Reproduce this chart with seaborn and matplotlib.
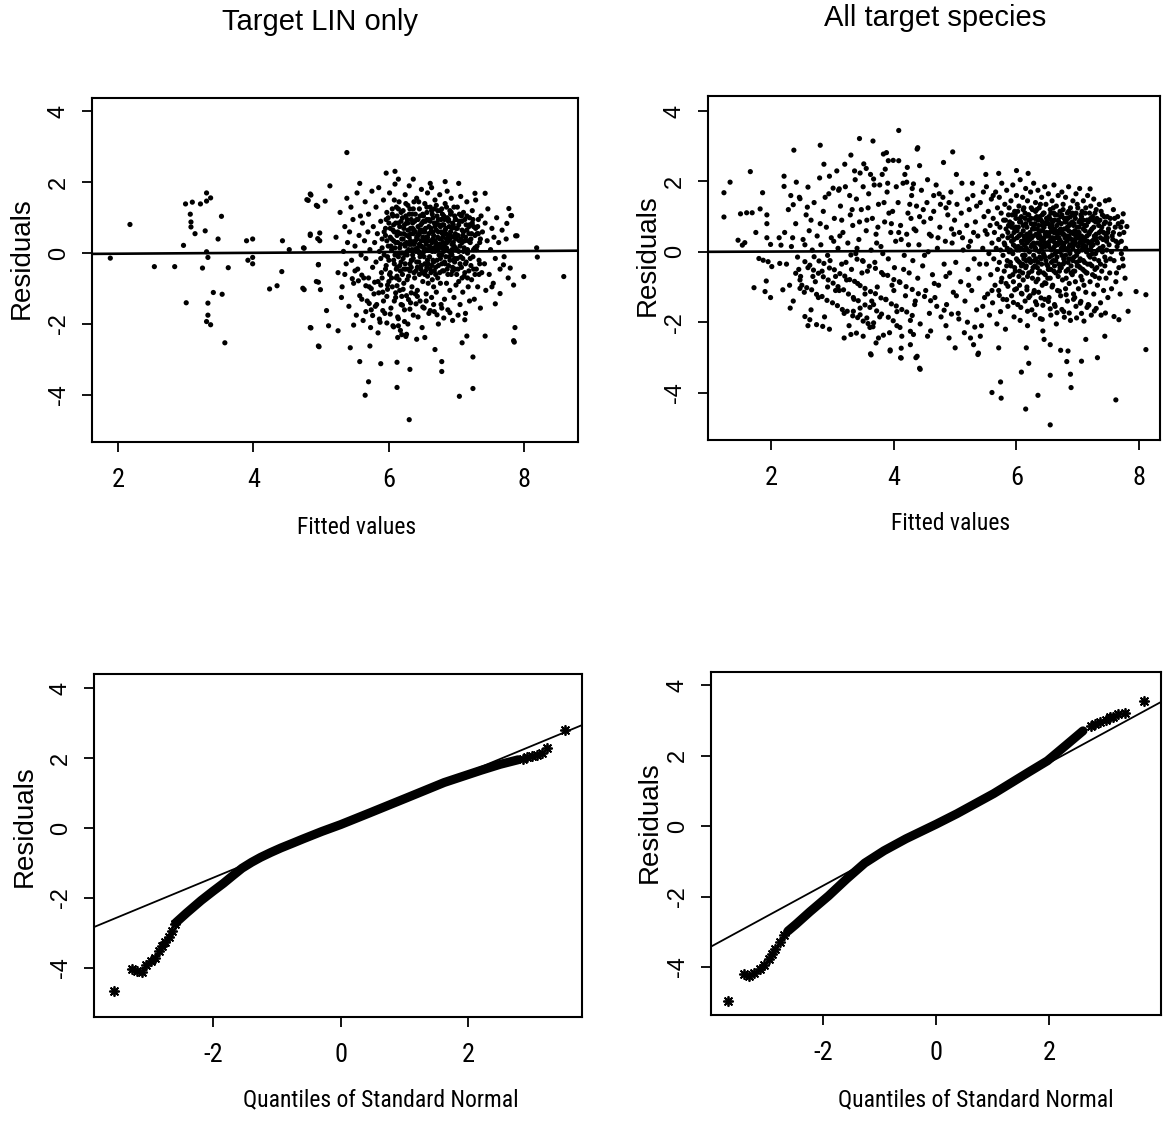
import matplotlib
matplotlib.use("Agg")
import matplotlib.pyplot as plt
from matplotlib import font_manager as fm
import seaborn as sns
import pandas as pd

# ---------------- data ----------------
lin_sparse = [(2.18,0.81),(1.89,-0.14),(2.54,-0.38),(2.84,-0.38),(2.97,0.22),(3.00,1.39),(3.10,1.44),(3.07,1.10),
(3.08,0.88),(3.08,0.74),(3.14,0.55),(3.22,1.39),(3.31,1.70),(3.31,1.47),(3.37,1.56),(3.29,0.63),(3.31,0.04),(3.33,-0.12),
(3.25,-0.42),(3.53,1.04),(3.48,0.40),(3.63,-0.41),(3.41,-1.11),(3.54,-1.16),(3.01,-1.40),(3.33,-1.41),(3.33,-1.75),
(3.31,-1.93),(3.37,-2.02),(3.58,-2.53),(3.90,0.35),(3.99,0.40),(3.92,-0.20),(3.99,-0.12),(3.99,-0.30),(4.24,-1.01),
(4.35,-0.92),(4.43,0.35),(4.42,-0.52),(4.53,0.10),(4.75,0.14),(4.75,-1.03),(4.81,1.49),(4.85,1.64),(4.95,1.32),
(4.84,0.50),(4.95,0.41),(4.98,0.57),(4.96,-0.32),(4.96,-0.82),(4.99,-1.03),(4.85,-2.11),(4.97,-2.64),
(5.38,2.84),(5.96,2.26),(6.09,2.31),(6.14,2.09),(6.36,2.09),(6.61,1.97),(6.83,2.02),(7.03,1.97),(7.42,1.69),(7.27,1.69),
(5.57,1.97),(5.13,1.90),(4.79,1.51),(4.84,1.67),(5.06,1.47),(4.93,1.35),(7.77,1.26),(7.81,1.06),(7.89,0.49),(7.74,0.84),
(8.18,0.15),(8.19,-0.11),(7.99,-0.66),(8.58,-0.66),(7.84,-0.90),(7.69,-0.33),(7.64,-1.14),(7.86,-2.10),(7.85,-2.51),
(7.42,-2.34),(7.24,-2.93),(7.24,-3.82),(7.04,-4.04),(6.78,-3.06),(6.78,-3.34),(6.68,-2.72),(6.53,-2.38),(6.31,-3.28),
(6.12,-3.08),(6.12,-3.79),(6.30,-4.70),(5.65,-4.01),(5.70,-3.63),(5.57,-3.06),(5.88,-3.12),(5.72,-2.62),(5.43,-2.67),
(4.96,-2.62),(4.84,-2.10),(5.11,-2.05),(5.25,-2.19),(5.48,-2.03),(4.73,-0.99),(4.93,-0.80),(5.08,-1.62),(4.74,0.15),
(4.96,-0.33),(4.84,0.54),(4.98,0.35),(6.14,-2.05),(6.13,-2.38),(6.26,-2.29),(6.41,-2.43),(7.15,-2.34),(7.08,-2.53),
(7.52,-0.95),(7.57,-1.43),(7.79,-0.42),(7.80,1.06),(7.87,0.49),(7.84,-2.47)]

lin_core = [(5.22,0.45),(5.25,-0.55),(5.28,1.15),(5.30,-1.25),(5.33,0.05),(5.35,0.75),(5.37,-0.30),(5.38,1.55),(5.31,-0.95),(5.39,0.30),
(5.41,-1.50),(5.42,0.60),(5.44,1.30),(5.45,-0.20),(5.47,0.95),(5.48,-0.85),(5.50,0.20),(5.52,-1.75),(5.53,1.70),(5.54,-0.45),(5.56,0.50),(5.57,-1.20),(5.58,1.05),(5.59,-0.05),
(5.61,0.85),(5.62,-1.90),(5.63,-0.70),(5.64,0.35),(5.65,1.45),(5.66,-0.15),(5.68,-1.35),(5.69,0.60),(5.70,1.10),(5.71,-0.95),(5.72,0.10),(5.74,-1.60),(5.75,1.75),(5.76,-0.40),(5.77,0.75),(5.78,-1.15),(5.79,0.30),(5.73,-2.10),
(5.81,1.30),(5.81,-0.25),(5.82,-1.45),(5.83,0.55),(5.84,-0.80),(5.85,1.85),(5.86,0.05),(5.87,-1.95),(5.88,0.90),(5.89,-0.55),(5.90,0.40),(5.91,-1.10),(5.92,1.50),(5.93,-0.05),(5.94,-1.70),(5.95,0.70),(5.96,-0.35),(5.97,1.15),(5.98,-0.90),(5.99,0.20),(5.84,-2.25),(5.92,-1.35),(5.96,0.95),(5.88,-0.15),
(6.01,1.70),(6.01,-0.60),(6.02,0.45),(6.03,-1.55),(6.04,0.10),(6.05,1.25),(6.05,-0.95),(6.06,-2.05),(6.07,0.80),(6.08,-0.30),(6.09,1.95),(6.10,-1.25),(6.10,0.30),(6.11,-0.70),(6.12,1.05),(6.13,-1.80),(6.13,0.60),(6.14,-0.10),(6.15,1.45),(6.16,-1.05),(6.16,0.15),(6.17,-0.50),(6.18,0.90),(6.18,-1.45),(6.19,0.40),(6.19,-2.30),(6.12,-0.40),(6.06,0.65),(6.15,0.00),(6.08,1.50),
(6.21,1.20),(6.21,-0.15),(6.22,0.55),(6.22,-0.85),(6.23,-1.60),(6.24,0.20),(6.24,1.65),(6.25,-0.45),(6.26,0.85),(6.26,-1.20),(6.27,0.05),(6.28,1.35),(6.28,-2.00),(6.29,-0.65),(6.30,0.45),(6.30,1.90),(6.31,-0.30),(6.32,0.70),(6.32,-1.40),(6.33,0.25),(6.34,-0.95),(6.34,1.10),(6.35,-0.05),(6.36,0.55),(6.36,-1.75),(6.37,1.45),(6.37,-0.55),(6.38,0.10),(6.38,0.90),(6.39,-1.15),(6.39,0.35),(6.25,-2.35),(6.33,-0.20),(6.27,0.95),
(6.41,1.55),(6.41,-0.25),(6.42,0.40),(6.42,-1.05),(6.43,0.95),(6.43,-1.80),(6.44,0.05),(6.45,1.25),(6.45,-0.60),(6.46,0.65),(6.46,-1.35),(6.47,0.20),(6.48,1.80),(6.48,-0.35),(6.49,0.85),(6.49,-2.10),(6.50,-0.80),(6.50,0.45),(6.51,1.05),(6.52,-0.10),(6.52,-1.55),(6.53,0.60),(6.53,1.40),(6.54,-0.50),(6.55,0.25),(6.55,-1.15),(6.56,0.95),(6.57,-0.20),(6.57,1.70),(6.58,0.35),(6.58,-0.85),(6.59,0.75),(6.59,-1.70),(6.45,0.00),(6.51,0.15),(6.56,-0.40),
(6.61,1.30),(6.61,0.10),(6.62,-0.55),(6.62,0.70),(6.63,-1.25),(6.63,1.85),(6.64,0.30),(6.65,-0.20),(6.65,1.00),(6.66,-0.95),(6.66,0.50),(6.67,-1.65),(6.68,0.05),(6.68,1.50),(6.69,-0.40),(6.70,0.85),(6.70,-1.10),(6.71,0.25),(6.72,1.20),(6.72,-0.70),(6.73,0.60),(6.73,-2.00),(6.74,-0.05),(6.75,1.65),(6.75,0.40),(6.76,-0.85),(6.77,0.95),(6.77,-1.45),(6.78,0.15),(6.78,-0.30),(6.79,1.10),(6.79,0.55),(6.64,-0.75),(6.70,0.20),(6.76,0.75),(6.67,1.25),
(6.81,-0.50),(6.81,0.80),(6.82,0.20),(6.82,-1.30),(6.83,1.40),(6.84,-0.10),(6.84,0.55),(6.85,-0.85),(6.86,1.75),(6.86,0.30),(6.87,-1.60),(6.88,0.95),(6.88,-0.35),(6.89,0.05),(6.90,1.20),(6.90,-1.05),(6.91,0.60),(6.92,-0.60),(6.92,1.55),(6.93,0.25),(6.94,-1.90),(6.94,0.85),(6.95,-0.20),(6.96,0.45),(6.96,-1.25),(6.97,1.05),(6.98,-0.45),(6.98,0.15),(6.99,0.70),(6.99,-0.90),(6.85,0.40),(6.93,-0.05),
(7.01,1.30),(7.01,-0.15),(7.02,0.50),(7.03,-0.80),(7.04,0.90),(7.05,-1.45),(7.05,0.20),(7.06,1.60),(7.07,-0.40),(7.08,0.65),(7.09,-1.10),(7.10,0.05),(7.10,1.15),(7.11,-0.65),(7.12,0.35),(7.13,-1.70),(7.14,0.80),(7.14,-0.25),(7.15,1.45),(7.16,0.10),(7.17,-0.95),(7.18,0.55),(7.18,-0.50),(7.19,1.00),(7.19,-1.35),(7.08,0.30),
(7.21,0.40),(7.22,-0.75),(7.23,1.20),(7.24,-0.10),(7.25,0.75),(7.26,-1.30),(7.27,0.15),(7.28,1.50),(7.29,-0.45),(7.30,0.55),(7.31,-0.95),(7.32,0.95),(7.33,-0.20),(7.34,0.30),(7.35,-1.55),(7.36,1.05),(7.37,-0.55),(7.38,0.60),
(7.41,-0.30),(7.42,0.85),(7.43,-1.05),(7.45,0.35),(7.46,1.25),(7.48,-0.60),(7.50,0.10),(7.52,0.70),(7.54,-0.85),(7.55,0.45),(7.57,-0.15),(7.59,1.00),
(7.62,0.30),(7.64,-0.45),(7.67,0.65),(7.70,-0.10),(7.73,0.40),(7.76,-0.70)]

lin_dense = [(5.90,0.15),(5.93,0.60),(5.95,-0.45),(5.97,0.35),(5.99,1.00),(6.00,-0.20),(6.02,0.70),(6.03,0.20),(6.04,-0.70),(6.06,1.05),
(6.07,0.35),(6.09,-0.05),(6.10,0.85),(6.11,-0.45),(6.12,0.50),(6.14,1.25),(6.15,-0.75),(6.16,0.75),(6.17,0.25),(6.18,-0.25),(6.20,1.00),
(6.21,0.40),(6.22,-0.45),(6.23,0.80),(6.24,-0.05),(6.25,1.40),(6.26,0.30),(6.27,-0.75),(6.28,0.65),(6.29,0.10),(6.30,1.10),(6.31,-0.50),
(6.32,0.35),(6.33,0.95),(6.34,-0.20),(6.35,0.70),(6.36,1.25),(6.37,0.25),(6.38,-0.70),(6.39,0.60),(6.40,0.05),(6.41,0.95),(6.42,-0.40),
(6.43,0.50),(6.44,1.45),(6.45,0.25),(6.46,-0.10),(6.47,0.80),(6.48,0.35),(6.49,-0.55),(6.50,1.10),(6.51,0.60),(6.52,0.05),(6.53,-0.30),
(6.54,0.90),(6.55,0.45),(6.56,1.30),(6.57,-0.65),(6.58,0.10),(6.59,0.55),(6.60,-0.10),(6.61,0.90),(6.62,0.35),(6.63,-0.35),(6.64,1.10),
(6.65,0.60),(6.66,0.15),(6.67,-0.50),(6.68,0.75),(6.69,0.30),(6.70,1.35),(6.71,-0.20),(6.72,0.45),(6.73,0.95),(6.74,0.20),(6.75,-0.55),
(6.76,1.20),(6.77,0.40),(6.78,-0.05),(6.79,0.80),(6.80,0.30),(6.81,1.05),(6.82,-0.25),(6.83,0.65),(6.84,0.10),(6.85,1.30),(6.86,-0.45),
(6.87,0.50),(6.88,0.90),(6.89,-0.10),(6.90,0.40),(6.91,1.10),(6.92,0.00),(6.93,0.70),(6.94,-0.40),(6.95,0.30),(6.96,1.30),(6.97,-0.15),
(6.98,0.55),(6.99,0.95),(7.00,0.10),(7.02,-0.45),(7.03,0.80),(7.04,0.35),(7.06,-0.10),(7.07,1.05),(7.08,-0.70),(7.09,0.50),(7.11,0.15),
(7.12,0.95),(7.13,-0.30),(7.15,0.65),(7.16,-0.70),(7.17,0.35),(7.19,0.80),(7.20,-0.15),(7.22,0.55),(7.24,0.95),(7.25,-0.45),(7.27,0.50),
(7.29,0.10),(7.31,0.75),(7.33,-0.60),(7.35,0.40),
(5.35,-0.60),(5.46,-0.72),(5.55,-0.78),(5.66,-0.92),(5.74,-1.00),(5.85,-1.12),(5.97,-1.22),(6.08,-1.35),(6.20,-1.47),(6.31,-1.58),
(5.60,-1.30),(5.71,-1.42),(5.80,-1.50),(5.91,-1.62),(6.02,-1.72),(6.14,-1.85),(6.23,-1.93),(5.90,-0.70),(6.00,-0.80),(6.12,-0.92),
(6.21,-1.02),(6.33,-1.12),(6.42,-1.22),(6.55,-1.35),(6.66,-1.45),(6.78,-1.55),(6.90,-1.68),(7.02,-1.75),(7.12,-1.88)]

lin_dense2 = [(5.95,0.50),(5.98,-0.10),(6.00,0.85),(6.02,-0.55),(6.04,0.40),(6.05,1.10),(6.07,-0.20),(6.08,0.60),(6.09,0.15),(6.11,1.30),
(6.12,-0.65),(6.13,0.30),(6.14,0.85),(6.16,-0.35),(6.17,0.55),(6.18,1.15),(6.19,0.00),(6.20,-0.60),(6.22,0.70),(6.23,0.25),(6.24,-0.30),
(6.25,1.05),(6.26,0.50),(6.27,-0.05),(6.28,0.85),(6.29,-0.45),(6.30,0.25),(6.31,1.25),(6.32,0.55),(6.33,-0.40),(6.34,0.10),(6.35,0.85),
(6.36,-0.15),(6.37,0.65),(6.38,0.30),(6.39,1.10),(6.40,-0.50),(6.41,0.45),(6.42,0.15),(6.43,0.75),(6.44,-0.25),(6.45,0.55),(6.46,1.05),
(6.47,-0.45),(6.48,0.20),(6.49,0.65),(6.50,0.00),(6.51,0.90),(6.52,0.35),(6.53,-0.60),(6.54,0.70),(6.55,0.10),(6.56,1.15),(6.57,0.45),
(6.58,-0.30),(6.59,0.95),(6.60,0.20),(6.61,-0.45),(6.62,0.60),(6.63,1.20),(6.64,0.05),(6.65,0.40),(6.66,-0.25),(6.67,0.85),(6.68,0.35),
(6.69,-0.60),(6.70,0.65),(6.71,1.05),(6.72,0.10),(6.73,-0.35),(6.74,0.80),(6.75,0.25),(6.76,-0.15),(6.77,0.60),(6.78,1.25),(6.79,-0.50),
(6.80,0.45),(6.81,0.05),(6.82,0.95),(6.83,-0.30),(6.84,0.70),(6.85,0.15),(6.86,1.00),(6.87,-0.60),(6.88,0.35),(6.89,0.75),(6.90,-0.20),
(6.91,0.50),(6.92,1.15),(6.93,0.10),(6.94,-0.50),(6.95,0.80),(6.96,0.20),(6.97,-0.25),(6.98,0.95),(6.99,0.40),(7.00,-0.60),(7.01,0.70),
(7.03,0.05),(7.04,1.10),(7.05,-0.30),(7.06,0.40),(7.08,0.90),(7.09,-0.15),(7.10,0.60),(7.12,-0.55),(7.13,0.45),(7.15,1.05),(7.16,0.00),
(7.18,0.75),(7.20,0.30),(7.21,-0.35),(7.23,0.85),(7.25,0.10),(7.27,-0.60),(7.28,0.70),(7.30,0.20),(7.32,0.55),(7.34,-0.30),
(5.50,-0.50),(5.60,-0.62),(5.70,-0.70),(5.79,-0.82),(5.88,-0.90),(5.98,-1.02),(6.10,-1.12),(6.19,-1.22),(6.29,-1.31),(6.40,-1.43),
(6.50,-1.52),(6.61,-1.62),(6.71,-1.74),(6.81,-1.83),(5.66,-1.65),(5.76,-1.76),(5.86,-1.86),(5.97,-1.97),(6.07,-2.08),(6.17,-2.18)]

all_sparse = [(1.23,1.68),(1.33,1.98),(1.23,0.99),(1.66,2.28),(1.50,1.08),(1.60,1.11),(1.69,1.11),(1.75,0.55),(1.82,1.22),
(1.86,1.68),(1.93,1.05),(1.93,0.80),(1.46,0.33),(1.53,0.19),(1.57,0.26),(1.93,0.40),(1.99,0.21),(2.13,0.40),(2.16,0.19),
(1.80,-0.19),(1.87,-0.24),(1.95,-0.28),(2.01,-0.42),(1.72,-1.02),(1.92,-0.83),(1.90,-1.13),(1.99,-1.30),(2.19,-1.08),
(2.14,-0.33),(2.31,-1.60),(2.21,2.15),(2.21,1.86),(2.37,2.89),(2.41,1.98),(2.32,1.60),(2.36,1.34),(2.47,1.51),(2.60,1.84),
(2.59,1.27),(2.80,3.03),(2.86,2.49),(2.95,2.15),(3.01,1.81),(3.11,1.79),(3.20,2.49),(3.30,2.75),(3.44,3.22),(3.66,3.15),
(3.45,2.24),(3.55,2.37),(3.67,2.07),(3.77,1.90),(3.83,2.78),(3.88,2.82),(3.91,2.59),(4.08,3.45),(4.08,2.59),(4.22,2.40),
(4.39,2.96),(4.42,2.45),(4.21,1.98),(4.32,1.93),(2.55,-1.84),(2.63,-1.93),(2.74,-2.07),(2.84,-2.12),(3.19,-2.45),
(3.39,-2.31),(3.50,-2.40),(3.62,-2.90),(3.71,-2.59),(3.83,-2.37),(3.94,-2.82),(4.11,-3.01),(4.10,-2.15),(4.27,-2.64),
(4.38,-2.97),(4.42,-3.31),(4.27,-2.26),(4.32,-2.35),(2.47,-1.04),(2.47,-0.80),(2.40,-0.61),(2.55,-0.28),(2.63,-0.38),
(2.69,-0.52),(2.77,-0.61),(2.85,-0.71),(2.93,-0.80),(3.01,-0.89),(3.09,-0.99),(3.18,-1.08),(3.26,-1.20),(3.34,-1.30),
(3.42,-1.39),(3.53,-1.51),(3.61,-1.58),(3.72,-1.68),(3.80,-1.77),(3.91,-1.86),(3.99,-1.96),(3.34,-1.69),(3.45,-1.79),
(3.56,-1.88),(3.67,-2.02),
(4.38,2.92),(4.96,2.84),(5.44,2.68),(5.71,2.23),(6.00,2.31),(6.19,2.23),(4.81,2.54),(7.20,1.79),(7.51,1.48),(7.74,1.08),
(7.80,0.72),(7.95,-1.13),(8.11,-1.22),(8.11,-2.78),(7.62,-4.21),(6.55,-4.92),(6.15,-4.47),(6.35,-4.08),(6.89,-3.86),
(6.88,-3.48),(6.55,-3.51),(5.74,-3.70),(5.60,-4.00),(5.75,-4.16),(6.08,-3.42),(6.20,-3.17),(6.16,-2.73),(6.45,-2.49),
(6.55,-2.64),(6.72,-2.80),(6.84,-2.82),(7.06,-3.11),(7.32,-3.01),(7.44,-2.40),(7.13,-2.49),(5.71,-2.73),(5.37,-2.92),
(5.30,-2.64),(5.00,-2.73),(5.41,-2.40),(4.43,-3.34),(4.36,-3.01),(7.82,-1.69),(7.67,-1.93),(7.59,-1.84),(7.45,-1.74),
(4.12,-3.02),(4.12,-2.74),(3.63,-2.93),(3.94,-2.79),(5.38,-2.88),(6.82,-3.12)]

all_mid = [(2.22,0.55),(2.25,-0.35),(2.28,1.20),(2.30,-0.95),(2.33,0.15),(2.36,-1.40),(2.40,0.80),(2.43,-0.15),(2.46,1.55),(2.48,-0.70),
(2.52,0.35),(2.54,-1.15),(2.57,1.05),(2.60,-0.45),(2.62,0.60),(2.65,-1.65),(2.67,0.05),(2.70,1.40),(2.72,-0.85),(2.75,0.45),(2.77,-1.30),(2.79,2.10),
(2.81,0.20),(2.83,-0.55),(2.85,1.15),(2.87,-1.85),(2.90,0.70),(2.92,-1.00),(2.94,1.65),(2.96,-0.25),(2.98,0.40),(3.00,-1.45),(3.03,0.95),(3.05,-0.70),(3.07,2.30),(3.09,0.10),
(3.11,-1.10),(3.13,1.30),(3.15,-0.35),(3.17,0.55),(3.19,-1.75),(3.21,1.85),(3.23,-0.80),(3.25,0.25),(3.27,-2.10),(3.29,1.05),(3.31,-0.50),(3.33,0.75),(3.35,-1.35),(3.37,2.05),(3.38,-0.05),(3.39,1.50),
(3.41,-0.90),(3.43,0.35),(3.45,-1.60),(3.47,1.20),(3.49,-0.25),(3.51,2.50),(3.53,-1.20),(3.55,0.60),(3.57,-0.55),(3.59,1.65),(3.61,-2.15),(3.63,0.05),(3.65,0.95),(3.67,-1.50),(3.68,1.90),(3.69,-0.30),
(3.71,0.50),(3.73,-1.00),(3.75,1.35),(3.77,-1.85),(3.79,0.15),(3.81,2.20),(3.83,-0.65),(3.85,0.85),(3.87,-1.35),(3.89,1.70),(3.91,-0.20),(3.93,-2.30),(3.95,0.55),(3.97,-0.95),(3.98,1.15),(3.99,2.60),
(4.01,-0.45),(4.03,0.30),(4.05,-1.70),(4.07,1.40),(4.09,-0.85),(4.11,0.75),(4.13,-2.40),(4.15,1.95),(4.17,-0.10),(4.19,-1.25),(4.21,0.50),(4.23,1.10),(4.25,-0.60),(4.27,-1.95),(4.28,0.95),(4.29,1.60),
(4.31,-0.25),(4.33,0.65),(4.35,-1.40),(4.37,1.30),(4.39,-0.75),(4.41,0.20),(4.43,-2.05),(4.45,1.75),(4.47,-0.40),(4.49,0.85),(4.52,-1.10),(4.54,1.40),(4.56,0.00),(4.58,-1.75),
(4.61,0.45),(4.63,-0.65),(4.65,1.15),(4.67,-1.30),(4.69,1.90),(4.71,0.10),(4.73,-0.95),(4.75,0.70),(4.77,-1.85),(4.80,1.55),(4.82,-0.35),(4.84,0.30),(4.86,-1.50),(4.88,1.05),
(4.91,-0.60),(4.93,1.70),(4.95,0.25),(4.97,-1.15),(4.99,0.90),(5.01,-0.30),(5.03,1.35),(5.05,-1.75),(5.07,0.55),(5.09,-0.85),(5.11,1.95),(5.13,0.05),(5.16,-1.40),(5.19,0.75),
(5.21,-0.50),(5.23,1.20),(5.25,0.30),(5.27,-1.10),(5.29,1.60),(5.31,-0.20),(5.33,0.85),(5.35,-1.65),(5.37,0.45),(5.39,-0.75),(5.41,1.40),(5.43,-2.10),(5.45,0.10),(5.47,1.00),(5.48,-1.30),(5.49,0.60),
(2.50,-0.95),(2.58,-1.02),(2.66,-1.08),(2.74,-1.21),(2.83,-1.27),(2.91,-1.38),(3.08,-1.53),(3.16,-1.64),(3.24,-1.69),(3.33,-1.82),
(3.41,-1.87),(3.50,-1.97),(3.58,-2.04),(3.66,-2.13),(2.70,-0.14),(2.78,-0.26),(2.86,-0.33),(2.95,-0.46),(3.03,-0.51),(3.12,-0.62),
(3.20,-0.69),(3.28,-0.79),(3.36,-0.84),(3.45,-0.96),(3.53,-1.04),(3.62,-1.13),(3.70,-1.19),(3.79,-1.31),(3.87,-1.36),(3.96,-1.48),
(4.04,-1.54),(4.13,-1.64),(4.21,-1.71),(4.30,-1.81),(3.30,-0.09),(3.40,-0.21),(3.50,-0.27),(3.60,-0.41),(3.70,-0.47),(3.80,-0.59),
(3.90,-0.67),(4.00,-0.79),(4.10,-0.87),(4.20,-0.99),(4.30,-1.07),(4.40,-1.19),(4.50,-1.27),(4.60,-1.39),
(2.65,0.90),(2.88,1.55),(3.02,0.30),(3.15,0.90),(3.28,1.60),(3.44,0.85),(3.58,1.25),(3.72,0.25),(3.84,1.40),(3.96,0.80),(4.04,1.85),
(4.12,0.35),(4.26,1.35),(4.36,0.60),(4.48,1.20),(4.60,0.95),(4.72,0.40),(4.85,1.25),(4.98,0.50),(5.10,1.10),(5.22,0.15),(5.35,1.30),
(3.36,2.30),(3.62,2.20),(3.86,2.35),(4.18,2.20),(4.55,2.05),(4.74,1.65),(5.02,2.20),(5.28,1.95),(5.50,2.20),(5.62,1.60),
(4.70,-1.55),(4.82,-1.66),(4.94,-1.77),(5.06,-1.91),(5.20,-2.00),(5.32,-2.14),(4.60,-2.25),(4.90,-2.45),(5.15,-2.30),(5.45,-1.55),
(2.35,0.40),(2.45,-0.50),(2.55,0.20),(2.68,-0.70),(2.80,0.80),(2.92,-0.10),(3.05,-1.10),(3.12,0.45),(3.22,-0.30),(3.32,1.20),
(3.40,0.10),(3.48,-0.60),(3.56,0.90),(3.64,-1.40),(3.74,0.70),(3.82,-0.05),(3.92,1.10),(4.00,-1.10),(4.08,0.55),(4.16,-0.50),
(4.24,0.20),(4.34,-1.50),(4.42,1.00),(4.50,-0.10),(4.58,0.50),(4.66,-0.90),(4.76,1.35),(4.85,-0.70),(4.94,0.65),(5.02,-1.25),
(5.12,0.40),(5.22,-0.95),(5.30,0.55),(5.40,-0.35),(5.46,1.70),(3.10,1.75),(3.50,1.85),(3.90,1.95),(4.30,1.80),(4.65,1.60),
(4.90,1.40),(5.20,1.50),(2.60,-2.10),(2.95,-2.20),(3.30,-2.35),(3.75,-2.45),(4.05,-2.10),(4.55,-2.40),(4.85,-2.10),(5.25,-2.45)]

all_core = [(5.51,1.85),(5.51,-0.35),(5.52,0.50),(5.53,-1.20),(5.54,1.15),(5.55,-0.05),(5.56,-1.80),(5.57,0.75),(5.58,-0.65),(5.59,1.50),(5.60,0.25),(5.61,-1.45),(5.62,0.95),(5.63,-0.20),(5.64,0.55),(5.65,-0.95),(5.66,1.70),(5.67,0.10),(5.68,-2.05),(5.68,0.80),(5.69,-0.50),(5.69,1.25),
(5.71,0.35),(5.71,-1.10),(5.72,1.55),(5.72,-0.30),(5.73,0.70),(5.74,-1.70),(5.74,0.05),(5.75,1.10),(5.76,-0.75),(5.76,1.95),(5.77,0.45),(5.78,-1.35),(5.78,-0.10),(5.79,0.90),(5.80,-0.55),(5.81,1.35),(5.81,0.20),(5.82,-2.20),(5.83,-0.90),(5.83,0.65),(5.84,1.75),(5.85,-0.25),(5.86,0.40),(5.86,-1.55),(5.87,1.05),(5.88,0.00),(5.89,-0.70),(5.89,0.85),
(5.91,1.45),(5.91,-0.40),(5.92,0.30),(5.92,-1.25),(5.93,0.80),(5.94,-0.05),(5.94,1.90),(5.95,-0.85),(5.96,0.55),(5.96,-1.85),(5.97,1.15),(5.98,0.15),(5.98,-0.55),(5.99,0.95),(6.00,-1.05),(6.00,1.60),(6.01,0.40),(6.02,-0.25),(6.02,-1.50),(6.03,0.70),(6.04,1.30),(6.04,-0.70),(6.05,0.05),(6.06,2.05),(6.06,-1.95),(6.07,0.50),(6.08,-0.40),(6.08,1.00),(6.09,-1.20),(6.09,0.25),(6.10,1.55),(6.10,-0.10),(5.97,0.65),(6.05,0.85),
(6.11,0.60),(6.11,-0.80),(6.12,1.25),(6.12,-0.20),(6.13,0.35),(6.14,-1.40),(6.14,0.95),(6.15,1.80),(6.15,-0.45),(6.16,0.10),(6.17,0.70),(6.17,-1.00),(6.18,1.45),(6.18,-2.10),(6.19,0.30),(6.20,-0.60),(6.20,1.05),(6.21,0.00),(6.22,0.55),(6.22,-1.25),(6.23,1.70),(6.23,-0.30),(6.24,0.80),(6.25,-1.65),(6.25,0.20),(6.26,1.20),(6.26,-0.75),(6.27,0.45),(6.28,-0.10),(6.28,1.95),(6.29,-1.10),(6.29,0.65),(6.30,0.95),(6.30,-0.40),(6.13,0.05),(6.19,0.40),(6.24,0.15),(6.16,-0.25),
(6.31,1.40),(6.31,0.10),(6.32,-0.85),(6.32,0.50),(6.33,-1.50),(6.33,1.00),(6.34,0.25),(6.35,-0.30),(6.35,1.75),(6.36,0.75),(6.36,-1.15),(6.37,0.00),(6.37,1.25),(6.38,-0.55),(6.38,0.45),(6.39,-1.90),(6.40,0.90),(6.40,-0.20),(6.41,1.55),(6.41,0.30),(6.42,-0.95),(6.43,0.60),(6.43,-2.25),(6.44,1.10),(6.44,-0.05),(6.45,0.40),(6.46,-1.35),(6.46,1.85),(6.47,0.15),(6.47,-0.65),(6.48,0.80),(6.48,1.35),(6.49,-0.35),(6.49,0.55),(6.34,0.65),(6.39,0.20),(6.42,0.85),(6.45,-0.10),(6.38,1.00),(6.44,0.35),
(6.51,-0.75),(6.51,0.95),(6.52,0.20),(6.52,1.65),(6.53,-1.30),(6.53,0.45),(6.54,-0.15),(6.55,1.20),(6.55,0.70),(6.56,-0.50),(6.56,-1.80),(6.57,0.05),(6.58,1.45),(6.58,0.35),(6.59,-0.95),(6.59,0.85),(6.60,-0.25),(6.61,1.90),(6.61,0.55),(6.62,-1.50),(6.62,0.15),(6.63,1.05),(6.64,-0.60),(6.64,0.40),(6.65,-2.05),(6.65,1.30),(6.66,0.00),(6.66,0.75),(6.67,-1.10),(6.68,0.25),(6.68,1.60),(6.69,-0.35),(6.69,0.60),(6.54,0.55),(6.57,0.90),(6.60,0.30),(6.63,-0.05),(6.67,0.50),(6.53,1.00),(6.62,0.65),
(6.71,1.15),(6.71,-0.45),(6.72,0.30),(6.72,-1.25),(6.73,0.80),(6.74,1.70),(6.74,-0.10),(6.75,0.50),(6.75,-0.80),(6.76,1.35),(6.77,0.15),(6.77,-1.70),(6.78,0.95),(6.78,-0.30),(6.79,0.40),(6.80,-1.05),(6.80,1.55),(6.81,0.65),(6.81,-0.55),(6.82,0.05),(6.83,1.10),(6.83,-1.40),(6.84,0.35),(6.85,-0.20),(6.85,1.85),(6.86,0.75),(6.86,-0.90),(6.87,0.20),(6.88,-1.95),(6.88,1.25),(6.89,0.55),(6.89,-0.40),(6.73,0.60),(6.76,0.05),(6.79,0.85),(6.82,0.45),(6.84,0.95),(6.87,-0.05),
(6.91,0.85),(6.91,-0.65),(6.92,0.25),(6.92,1.45),(6.93,-1.20),(6.94,0.50),(6.94,-0.15),(6.95,1.05),(6.96,-0.85),(6.96,0.35),(6.97,1.65),(6.97,-1.55),(6.98,0.00),(6.99,0.70),(6.99,-0.40),(7.00,1.25),(7.01,0.15),(7.01,-1.05),(7.02,0.55),(7.03,-0.25),(7.03,1.80),(7.04,0.90),(7.05,-0.70),(7.05,0.30),(7.06,-1.75),(7.07,1.15),(7.07,0.05),(7.08,-0.50),(7.09,0.65),(7.09,1.45),(7.10,-0.95),(6.95,0.60),(7.02,0.40),(7.06,0.80),
(7.11,0.40),(7.11,-0.30),(7.12,1.10),(7.13,-1.15),(7.13,0.15),(7.14,0.75),(7.15,-0.60),(7.16,1.60),(7.16,0.30),(7.17,-1.50),(7.18,0.90),(7.18,-0.10),(7.19,0.55),(7.20,-0.85),(7.21,1.30),(7.21,0.05),(7.22,-1.80),(7.23,0.65),(7.23,-0.40),(7.24,1.00),(7.25,0.20),(7.26,-1.20),(7.26,1.50),(7.27,0.45),(7.28,-0.70),(7.29,0.85),(7.29,-0.05),(7.30,1.20),
(7.31,0.30),(7.32,-0.95),(7.33,0.85),(7.34,-0.25),(7.35,1.35),(7.36,0.10),(7.37,-1.45),(7.38,0.60),(7.39,-0.55),(7.40,1.05),(7.41,0.35),(7.42,-1.10),(7.43,0.80),(7.44,-0.15),(7.45,1.45),(7.46,0.45),(7.46,-0.75),(7.47,0.05),(7.48,1.00),(7.49,-1.30),(7.49,0.55),(7.36,0.90),
(7.51,0.20),(7.52,-0.60),(7.53,0.95),(7.55,-1.05),(7.56,0.45),(7.58,1.20),(7.59,-0.25),(7.61,0.70),(7.62,-0.85),(7.64,0.15),(7.65,1.00),(7.67,-0.45),(7.68,0.50),(7.69,-1.20),
(7.71,0.30),(7.72,0.85),(7.74,-0.40),(7.75,0.55),(7.77,-0.75),(7.78,0.10)]

all_dense = [(5.80,0.25),(5.82,0.90),(5.84,-0.40),(5.86,0.55),(5.88,1.25),(5.90,0.05),(5.92,0.70),(5.94,-0.65),(5.96,0.35),(5.98,1.05),
(6.00,-0.20),(6.01,0.60),(6.03,0.15),(6.05,-0.55),(6.06,0.95),(6.08,0.30),(6.10,-0.35),(6.11,1.20),(6.12,0.45),(6.14,-0.10),(6.15,0.80),
(6.17,0.25),(6.18,-0.70),(6.19,1.05),(6.21,0.50),(6.22,-0.25),(6.24,0.95),(6.25,0.40),(6.27,-0.45),(6.28,0.75),(6.29,0.15),(6.31,1.15),
(6.32,-0.20),(6.34,0.45),(6.35,0.90),(6.36,-0.60),(6.37,0.55),(6.39,1.35),(6.40,0.35),(6.41,-0.35),(6.42,0.75),(6.43,0.15),(6.45,1.10),
(6.46,-0.15),(6.47,0.50),(6.48,-0.90),(6.49,0.95),(6.50,0.25),(6.51,-0.40),(6.52,0.80),(6.54,0.30),(6.55,-0.75),(6.56,1.10),(6.57,0.60),
(6.58,-0.10),(6.59,0.40),(6.60,1.25),(6.61,-0.55),(6.62,0.90),(6.63,0.25),(6.64,-0.25),(6.66,1.05),(6.67,0.20),(6.68,-0.70),(6.69,0.85),
(6.70,0.35),(6.71,0.00),(6.72,1.00),(6.73,-0.45),(6.74,0.55),(6.75,0.20),(6.76,1.20),(6.77,-0.20),(6.78,0.65),(6.79,0.10),(6.80,0.95),
(6.81,-0.75),(6.82,0.30),(6.83,0.70),(6.84,-0.30),(6.85,1.15),(6.86,0.45),(6.87,0.00),(6.88,0.80),(6.89,-0.60),(6.90,0.35),(6.91,1.10),
(6.92,-0.25),(6.93,0.75),(6.94,0.20),(6.95,-0.55),(6.96,0.95),(6.97,0.40),(6.98,-0.10),(6.99,1.35),(7.00,0.55),(7.01,-0.40),(7.02,0.85),
(7.03,0.25),(7.04,-0.20),(7.05,1.05),(7.06,0.45),(7.07,-0.80),(7.08,0.20),(7.09,0.90),(7.10,0.35),(7.11,-0.55),(7.12,0.60),(7.13,1.25),
(7.14,0.00),(7.15,0.45),(7.16,-0.35),(7.17,0.85),(7.18,0.25),(7.19,1.10),(7.20,-0.15),(7.21,0.60),(7.22,0.15),(7.24,-0.65),(7.25,0.90),
(7.26,0.35),(7.27,-0.20),(7.28,1.10),(7.30,0.50),(7.31,-0.45),(7.32,0.25),(7.34,0.75),(7.35,-0.75),(7.37,0.40),(7.38,1.15),(7.40,0.00),
(7.42,0.55),(7.44,-0.40),(7.45,0.85),(7.47,0.30),(7.50,0.65),(7.53,-0.20),(7.57,0.35),(7.60,0.95),(7.63,-0.60),(7.66,0.25),(7.70,0.70),
(7.73,-0.20),
(5.60,-1.10),(5.72,-1.24),(5.84,-1.36),(5.95,-1.44),(6.07,-1.58),(6.18,-1.69),(6.30,-1.79),(6.42,-1.92),(6.05,-0.95),(6.17,-1.08),
(6.28,-1.17),(6.40,-1.31),(6.52,-1.41),(6.63,-1.55),(6.74,-1.64),(6.86,-1.74),(6.98,-1.88),(7.10,-1.97),(6.95,-1.30),(7.05,-1.41),
(7.18,-1.52),(7.30,-1.61)]

all_dense2 = [(5.85,0.10),(5.87,0.75),(5.90,-0.30),(5.92,0.45),(5.93,1.05),(5.95,0.20),(5.97,-0.45),(5.99,0.70),(6.01,0.05),(6.02,1.15),
(6.04,0.45),(6.05,-0.30),(6.07,0.85),(6.08,0.10),(6.10,-0.60),(6.11,0.75),(6.13,0.20),(6.14,1.10),(6.16,-0.40),(6.17,0.50),(6.18,0.05),
(6.20,0.90),(6.21,-0.20),(6.22,0.35),(6.24,1.25),(6.25,-0.55),(6.26,0.65),(6.28,0.25),(6.29,-0.25),(6.30,0.80),(6.32,0.05),(6.33,1.20),
(6.34,-0.45),(6.36,0.40),(6.37,0.95),(6.38,-0.15),(6.40,0.60),(6.41,0.10),(6.42,1.05),(6.44,-0.60),(6.45,0.70),(6.46,0.25),(6.48,-0.25),
(6.49,0.85),(6.50,0.45),(6.52,-0.50),(6.53,0.15),(6.54,0.95),(6.56,0.35),(6.57,-0.30),(6.58,0.75),(6.60,0.10),(6.61,1.10),(6.62,-0.40),
(6.64,0.55),(6.65,0.20),(6.66,-0.15),(6.68,0.90),(6.69,0.40),(6.70,-0.55),(6.72,0.65),(6.73,0.10),(6.74,1.05),(6.76,-0.35),(6.77,0.50),
(6.78,0.25),(6.80,-0.10),(6.81,0.85),(6.82,0.40),(6.84,-0.50),(6.85,0.60),(6.86,0.15),(6.88,1.00),(6.89,-0.20),(6.90,0.55),(6.92,0.10),
(6.93,-0.55),(6.94,0.80),(6.96,0.25),(6.97,1.10),(6.98,-0.30),(7.00,0.45),(7.01,0.00),(7.02,0.70),(7.04,-0.45),(7.05,0.35),(7.06,1.00),
(7.08,0.10),(7.09,-0.25),(7.11,0.75),(7.12,0.30),(7.14,-0.60),(7.15,0.90),(7.17,0.05),(7.18,0.50),(7.20,-0.35),(7.21,0.95),(7.23,0.30),
(7.24,-0.05),(7.26,0.70),(7.28,-0.50),(7.29,0.40),(7.31,0.95),(7.33,0.05),(7.35,0.55),(7.37,-0.35),(7.39,0.70),(7.41,0.15),(7.43,1.00),
(7.46,-0.25),(7.48,0.40),(7.52,0.80),(7.55,0.00),(7.58,0.55),(7.62,0.30),(7.66,0.80),(7.71,-0.05),
(5.75,-0.85),(5.86,-0.98),(5.97,-1.08),(6.08,-1.18),(6.20,-1.30),(6.31,-1.42),(6.43,-1.52),(6.55,-1.62),(6.66,-1.73),(6.78,-1.86),
(6.35,-0.78),(6.46,-0.88),(6.58,-1.00),(6.70,-1.12),(6.81,-1.22),(6.93,-1.35),(7.04,-1.46),(7.15,-1.58),(7.27,-1.68),(7.38,-1.80)]

lin_trend_x = [1.62, 8.79]
lin_trend_y = [-0.02, 0.07]
all_trend_x = [0.97, 8.34]
all_trend_y = [0.00, 0.05]

qq_lin_curve_x = [-2.59,-2.42,-2.19,-2.00,-1.84,-1.70,-1.55,-1.40,-1.26,-1.10,-0.94,-0.75,-0.59,-0.30,0.00,0.45,1.03,1.62,2.20,2.50,2.78]
qq_lin_curve_y = [-2.71,-2.43,-2.07,-1.80,-1.58,-1.37,-1.15,-0.98,-0.84,-0.70,-0.57,-0.43,-0.31,-0.10,0.10,0.43,0.86,1.30,1.65,1.82,1.95]
qq_lin_tail_x = [-3.55,-3.28,-3.20,-3.12,-3.05,-2.98,-2.92,-2.85,-2.80,-2.75,-2.70,-2.65,-2.60,2.85,2.92,3.00,3.08,3.15,3.23,3.52]
qq_lin_tail_y = [-4.67,-4.02,-4.08,-4.10,-3.92,-3.80,-3.70,-3.50,-3.38,-3.25,-3.12,-2.95,-2.75,1.98,2.02,2.05,2.08,2.15,2.29,2.79]
qq_lin_line_x = [-3.87, 3.78]
qq_lin_line_y = [-2.83, 2.94]

qq_all_curve_x = [-2.62,-2.48,-2.23,-1.90,-1.58,-1.26,-0.92,-0.53,0.00,0.37,1.02,1.65,1.97,2.29,2.60]
qq_all_curve_y = [-2.98,-2.79,-2.43,-1.98,-1.50,-1.05,-0.70,-0.36,0.05,0.35,0.92,1.54,1.85,2.28,2.70]
qq_all_tail_x = [-3.68,-3.39,-3.30,-3.22,-3.12,-3.04,-2.96,-2.90,-2.84,-2.76,-2.68,2.74,2.82,2.90,3.00,3.08,3.13,3.22,3.35,3.68]
qq_all_tail_y = [-4.97,-4.21,-4.25,-4.18,-4.05,-3.95,-3.78,-3.62,-3.48,-3.30,-3.10,2.84,2.90,2.95,3.02,3.08,3.10,3.18,3.22,3.55]
qq_all_line_x = [-3.98, 3.98]
qq_all_line_y = [-3.42, 3.52]

titles = ["Target LIN only", "All target species"]
fit_ticks = [2, 4, 6, 8]
qq_ticks = [-2, 0, 2]
res_ticks = [-4, -2, 0, 2, 4]

# ---------------- fonts ----------------
sns.set_style("white")
REG = ["Liberation Sans", "DejaVu Sans"]
plt.rcParams["font.family"] = REG
plt.rcParams.update({"text.color": "black", "axes.labelcolor": "black",
                     "xtick.color": "black", "ytick.color": "black"})


def find_narrow():
    prefs = ["Liberation Sans Narrow", "Arial Narrow", "Roboto Condensed", "DejaVu Sans Condensed",
             "Noto Sans Condensed", "Open Sans Condensed", "Noto Sans Display Condensed"]
    fl = fm.fontManager.ttflist
    ok_w = (400, "normal", "regular", "book")
    for p in prefs:
        for f in fl:
            if f.name == p and f.style == "normal" and f.weight in ok_w:
                return f.fname
    for f in fl:
        nm = f.name.lower()
        if (("narrow" in nm or "condensed" in nm) or f.stretch in ("condensed", "semi-condensed")) \
                and f.style == "normal" and f.weight in ok_w:
            return f.fname
    return None


NARROW_FILE = find_narrow()


def nar(size):
    if NARROW_FILE:
        return fm.FontProperties(fname=NARROW_FILE, size=size)
    return fm.FontProperties(family=REG, size=size * 0.8)


# ---------------- drawing ----------------
W, H = 1165, 1121
fig = plt.figure(figsize=(W / 100, H / 100), dpi=100)


def add_ax(l, t, r, b):
    return fig.add_axes([l / W, 1 - b / H, (r - l) / W, (b - t) / H])


def style(ax, xt, xlim, ylim):
    ax.set_xlim(*xlim)
    ax.set_ylim(*ylim)
    ax.set_xticks(xt)
    ax.set_xticklabels([str(v) for v in xt], fontproperties=nar(19))
    ax.set_yticks(res_ticks)
    ax.set_yticklabels([str(v) for v in res_ticks], family=REG, fontsize=17,
                       rotation=90, va="center")
    for s in ax.spines.values():
        s.set_visible(True)
        s.set_linewidth(1.5)
        s.set_color("black")
    ax.tick_params(axis="both", which="both", direction="out", length=7, width=1.3,
                   color="black", labelcolor="black", bottom=True, left=True, top=False, right=False)
    ax.tick_params(axis="x", pad=12)
    ax.tick_params(axis="y", pad=9)
    ax.set_xlabel("")
    ax.set_ylabel("")


def pts(lst):
    return pd.DataFrame(lst, columns=["x", "y"])


axes_px = [(92, 98, 578, 442), (708, 96, 1160, 440), (94, 674, 582, 1017), (711, 672, 1161, 1015)]
ax1, ax2, ax3, ax4 = [add_ax(*p) for p in axes_px]

for ax, groups, tx, ty, xlim, ylim in [
    (ax1, [lin_sparse, lin_core, lin_dense, lin_dense2], lin_trend_x, lin_trend_y, (1.62, 8.79), (-5.33, 4.38)),
    (ax2, [all_sparse, all_mid, all_core, all_dense, all_dense2], all_trend_x, all_trend_y, (0.97, 8.34), (-5.35, 4.43)),
]:
    df = pd.concat([pts(g) for g in groups], ignore_index=True)
    sns.scatterplot(data=df, x="x", y="y", ax=ax, s=14, color="black",
                    edgecolor="none", linewidth=0, legend=False)
    sns.lineplot(x=tx, y=ty, ax=ax, color="black", linewidth=1.9, estimator=None)
    style(ax, fit_ticks, xlim, ylim)

for ax, cx, cy, tx, ty, lx, ly, xlim, ylim in [
    (ax3, qq_lin_curve_x, qq_lin_curve_y, qq_lin_tail_x, qq_lin_tail_y, qq_lin_line_x, qq_lin_line_y, (-3.87, 3.78), (-5.40, 4.40)),
    (ax4, qq_all_curve_x, qq_all_curve_y, qq_all_tail_x, qq_all_tail_y, qq_all_line_x, qq_all_line_y, (-3.98, 3.98), (-5.36, 4.37)),
]:
    sns.lineplot(x=lx, y=ly, ax=ax, color="black", linewidth=1.3, estimator=None)
    sns.lineplot(x=cx, y=cy, ax=ax, color="black", linewidth=6.5, estimator=None,
                 solid_capstyle="round", solid_joinstyle="round")
    sns.scatterplot(x=tx, y=ty, ax=ax, marker=(8, 2, 0), s=45, color="black",
                    linewidth=1.3, legend=False)
    style(ax, qq_ticks, xlim, ylim)

fig.text(320 / W, 1 - 22 / H, titles[0], ha="center", va="center", fontsize=21, family=REG)
fig.text(935 / W, 1 - 18 / H, titles[1], ha="center", va="center", fontsize=21, family=REG)
for (cx, cy, s) in [(357, 527, "Fitted values"), (951, 524, "Fitted values"),
                    (381, 1100, "Quantiles of Standard Normal"), (976, 1100, "Quantiles of Standard Normal")]:
    fig.text(cx / W, 1 - cy / H, s, ha="center", va="center", fontproperties=nar(17))
for (cx, cy) in [(22, 258), (648, 255), (25, 826), (650, 822)]:
    fig.text(cx / W, 1 - cy / H, "Residuals", ha="center", va="center", rotation=90,
             fontsize=20, family=REG)

fig.savefig("out.png", dpi=100, facecolor="white")
